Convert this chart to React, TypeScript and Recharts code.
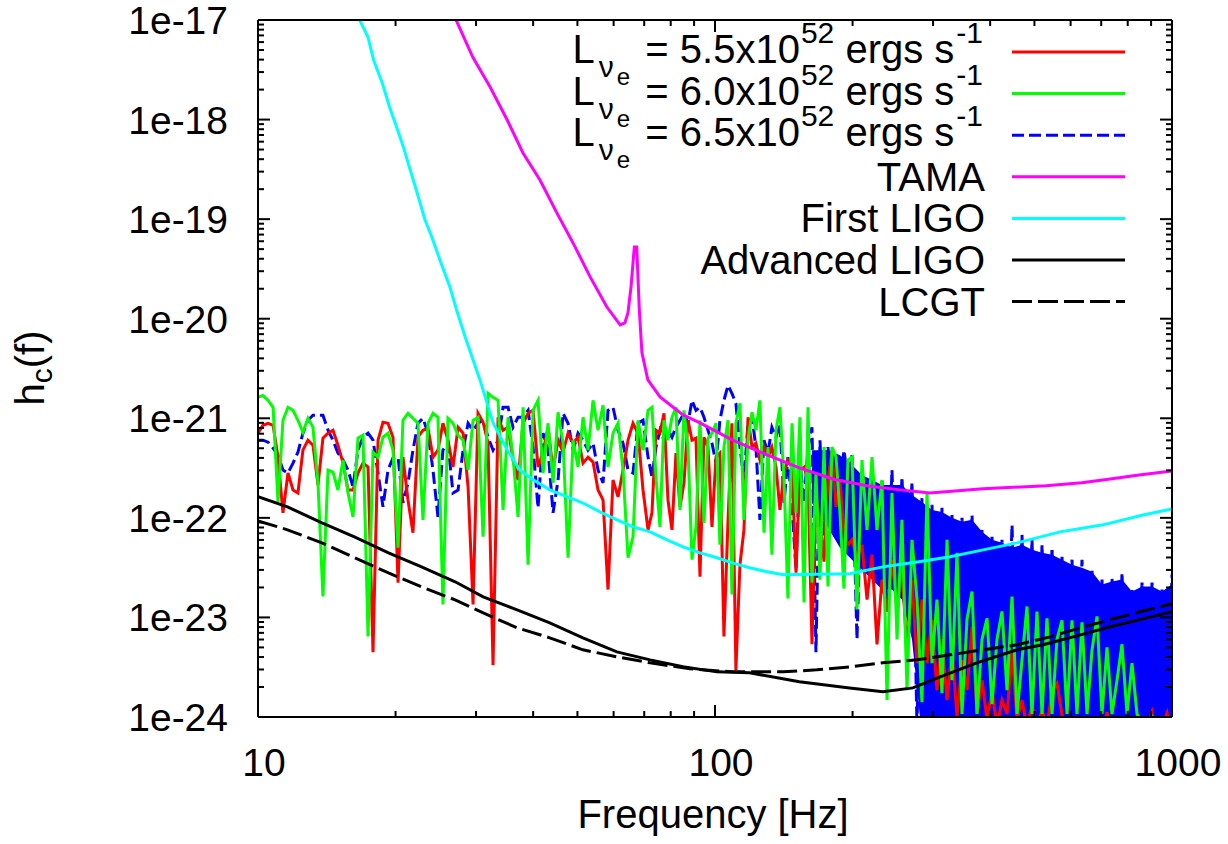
import { ComposedChart, Line, Area, XAxis, YAxis } from 'recharts';

const FONT = "'Liberation Sans', Arial, Helvetica, sans-serif";

// shared frequency grid of the three neutrino-luminosity runs (Hz)
const noiseFreq = [
  10.0, 10.25, 10.52, 10.79, 11.06, 11.34, 11.63, 11.93, 12.23, 12.54, 12.86, 13.19, 13.53, 13.87, 14.23, 14.59,
  14.96, 15.35, 15.74, 16.14, 16.55, 16.97, 17.41, 17.85, 18.31, 18.77, 19.25, 19.74, 20.25, 20.76, 21.29, 21.83,
  22.39, 22.96, 23.55, 24.15, 24.76, 25.39, 26.04, 26.71,
  27.4, 28.1, 28.82, 29.55, 30.3, 31.08, 31.87, 32.68, 33.52, 34.37, 35.25, 36.15, 37.07, 38.02, 38.99, 39.98,
  41.0, 42.05, 43.12, 44.22, 45.35, 46.5, 47.69, 48.91, 50.15, 51.43, 52.74, 54.09, 55.47, 56.88, 58.33, 59.82,
  61.35, 62.91, 64.52, 66.16, 67.85, 69.58, 71.36,
  72.79, 74.27, 75.78, 77.33, 78.9, 80.51, 82.15, 83.82, 85.53, 87.27, 89.05, 90.86, 92.71, 94.6, 96.53, 98.49,
  100.5, 102.5, 104.6, 106.8, 108.9, 111.1, 113.4, 115.7, 118.1, 120.5, 122.9, 125.4, 128.0, 130.6, 133.2, 136.0,
  138.7, 141.6, 144.4, 147.4, 150.4, 153.4, 156.6, 159.8, 163.0, 166.3, 169.7, 173.2, 176.7, 180.3, 184.0, 187.7,
  191.5, 195.4,
  199.4, 204.5, 209.7, 215.1, 220.6, 226.2, 231.9, 237.9, 243.9, 250.2, 256.5, 263.1, 269.8, 276.7, 283.7, 291.0,
  298.4, 306.0, 313.8, 321.9, 330.1, 338.5, 347.1, 356.0, 365.1, 374.4, 384.0, 393.8, 403.8, 414.1, 424.6, 435.5,
  446.6, 458.0, 469.6, 481.6, 493.9, 506.5, 519.5, 532.7, 546.3, 560.2, 574.5, 589.2, 604.2, 619.6, 635.4, 651.7,
  668.3, 685.3, 702.8, 720.7, 739.1, 758.0, 777.3, 797.2, 817.5, 838.4, 859.8, 881.7, 904.2, 927.3, 950.9, 975.2,
  1000,
];

// log10 h_c for L = 5.5e52
const redLog = [
  -21.15, -21.07, -21.05, -21.07, -21.39, -21.95, -21.55, -21.72, -21.75, -21.32, -21.22, -21.27, -21.67, -21.2,
  -21.15, -21.12, -21.27, -21.45, -21.72, -21.72, -21.55, -21.45, -21.49, -23.35, -21.22, -21.04, -21.05, -21.19,
  -22.65, -21.39, -21.82, -22.15, -21.19, -21.12, -21.1, -21.39, -21.32, -21.05, -21.22, -21.49,
  -21.09, -21.15, -21.69, -22.87, -20.95, -21.04, -21.25, -23.48, -20.99, -21.12, -21.09, -21.42, -21.62, -21.05,
  -20.95, -20.92, -21.49, -21.34, -21.09, -21.52, -21.22, -21.34, -21.15, -21.25, -21.19, -21.45, -21.39, -21.44,
  -21.72, -21.82, -22.72, -21.62, -21.79, -21.52, -21.22, -21.05, -21.15, -21.72, -22.12,
  -21.95, -21.12, -21.15, -20.95, -21.82, -22.12, -21.35, -21.89, -21.65, -21.02, -21.22, -21.2, -22.59, -21.19,
  -21.29, -22.09, -21.39, -21.35, -23.19, -22.02, -21.05, -23.53, -22.47, -22.12, -20.99, -21.29, -21.25, -21.42,
  -21.29, -21.39, -21.29, -21.49, -21.92, -21.55, -21.42, -21.49, -22.55, -21.52, -21.49, -21.62, -23.27, -21.79,
  -22.02, -22.44, -21.62, -21.32, -21.89, -21.62, -22.15, -22.27,
  -22.22, -22.4, -22.27, -22.82, -22.37, -23.27, -22.62, -22.94, -22.42, -22.92, -22.52, -23.33, -22.62, -23.46,
  -22.82, -23.46, -23.02, -23.73, -23.22, -23.83, -23.33, -24.0, -23.43, -23.73, -23.09, -23.97, -23.63, -24.03,
  -23.73, -24.1, -23.83, -23.97, -23.35, -24.03, -23.83, -24.1, -23.88, -24.1, -23.93, -24.1, -23.73, -23.66,
  -23.98, -24.1, -24.2, -24.1, -24.2, -24.1, -24.2, -24.1, -24.2, -23.95, -24.2, -24.1, -24.2, -24.1, -24.2,
  -24.1, -24.2, -24.1, -23.95, -24.2, -24.1, -23.96, -24.2,
];

// log10 h_c for L = 6.0e52
const greenLog = [
  -20.79, -20.77, -20.82, -20.89, -21.84, -21.02, -20.89, -20.92, -21.02, -21.14, -21.0, -21.09, -21.65, -22.79,
  -21.52, -21.54, -21.72, -21.42, -21.75, -21.99, -21.2, -21.17, -23.19, -21.34, -21.39, -21.19, -21.15, -21.32,
  -22.3, -21.02, -20.95, -21.0, -21.05, -22.02, -21.05, -20.95, -20.99, -22.87, -21.0, -21.05,
  -21.17, -21.22, -21.52, -21.02, -20.99, -22.19, -20.75, -20.79, -20.82, -21.92, -20.99, -21.39, -21.99, -20.89,
  -22.47, -20.92, -20.82, -21.55, -21.05, -21.65, -20.94, -21.25, -22.4, -21.22, -21.49, -20.99, -21.32, -20.82,
  -21.12, -20.87, -21.49, -21.15, -21.05, -21.52, -22.4, -22.19, -21.02, -21.32, -20.92,
  -20.89, -21.59, -22.09, -21.02, -21.22, -20.99, -20.89, -21.92, -20.92, -21.29, -22.42, -22.09, -21.02, -22.05,
  -21.2, -21.15, -21.05, -22.27, -21.29, -21.02, -22.77, -21.05, -20.85, -22.02, -21.22, -20.94, -21.12, -20.82,
  -22.15, -21.29, -22.37, -21.12, -20.89, -21.62, -22.81, -21.05, -21.95, -20.99, -22.85, -20.89, -22.65, -21.55,
  -22.62, -21.29, -22.69, -21.29, -21.39, -21.95, -22.71, -21.42,
  -21.39, -22.92, -21.42, -22.12, -21.39, -22.12, -21.62, -23.83, -21.75, -23.22, -22.02, -23.73, -22.22, -22.82,
  -23.85, -21.75, -23.46, -22.82, -23.76, -22.22, -23.63, -22.35, -23.97, -23.02, -22.74, -23.97, -23.22, -23.01,
  -23.87, -23.22, -22.94, -23.73, -22.79, -23.97, -23.43, -22.89, -23.97, -22.94, -23.97, -23.01, -23.97, -23.22,
  -23.03, -23.97, -23.03, -23.97, -23.05, -23.97, -23.33, -22.99, -23.97, -23.3, -23.97, -23.63, -23.27, -23.97,
  -23.46, -23.97, -24.05, -24.1, -24.0, -24.1, -24.05, -24.1, -24.0,
];

// log10 h_c for L = 6.5e52
const blueLog = [
  -21.22, -21.22, -21.24, -21.3, -21.37, -21.52, -21.55, -21.45, -21.34, -21.15, -21.02, -20.97, -20.97, -20.97,
  -21.12, -21.22, -21.35, -21.42, -21.52, -21.69, -21.32, -21.19, -21.15, -21.22, -21.55, -21.89, -21.52, -21.4,
  -21.39, -21.85, -21.65, -21.32, -21.05, -21.0, -21.15, -21.52, -21.99, -21.32, -21.25, -21.75,
  -21.72, -21.32, -21.05, -21.12, -21.05, -21.02, -21.19, -21.32, -21.22, -20.89, -20.89, -21.09, -20.99, -20.99,
  -20.92, -21.29, -21.9, -21.15, -21.32, -21.95, -21.62, -20.95, -21.05, -21.32, -21.15, -21.22, -21.32, -21.25,
  -21.52, -21.65, -20.92, -20.89, -21.12, -21.25, -21.52, -21.55, -21.05, -21.02, -21.39,
  -21.59, -21.29, -21.12, -21.22, -21.12, -21.19, -21.09, -21.02, -20.95, -21.05, -20.82, -20.92, -20.89, -20.99,
  -21.12, -21.25, -21.45, -21.02, -20.82, -20.67, -20.75, -20.85, -21.29, -21.62, -21.05, -20.99, -21.29, -22.02,
  -21.22, -21.35, -21.09, -21.19, -21.05, -21.85, -21.39, -21.89, -22.52, -21.42, -21.85, -21.29, -21.09, -23.35,
  -21.22, -22.19, -21.29, -21.75, -21.42, -21.72, -21.32, -21.62,
  -21.37, -23.22, -21.52, -22.42, -21.59, -22.62, -21.62, -22.94, -21.52, -22.82, -21.59, -22.72, -21.64, -24.1,
  -21.8, -23.83, -21.87, -23.63, -21.9, -23.83, -21.97, -23.73, -22.0, -23.93, -21.97, -23.73, -22.12, -23.93,
  -22.19, -23.83, -22.22, -23.63, -22.07, -23.83, -22.17, -23.73, -22.22, -23.93, -22.27, -23.83, -22.3, -23.93,
  -22.39, -23.83, -22.42, -23.98, -22.42, -23.88, -22.52, -23.98, -22.62, -24.1, -22.6, -24.1, -22.55, -24.1,
  -22.72, -24.1, -22.65, -24.1, -22.65, -24.1, -22.72, -24.1, -22.57,
];

// where the 6.5e52 trace is so dense it reads as a solid band: its upper and lower edges
const bandFreq = [
  163.0, 176.7, 187.7,
  199.4, 209.7, 220.6, 231.9, 243.9, 256.5, 269.8, 283.7, 298.4, 313.8, 330.1, 347.1, 365.1, 384.0, 403.8, 424.6,
  446.6, 469.6, 493.9, 519.5, 546.3, 574.5, 604.2, 635.4, 668.3, 702.8, 739.1, 777.3, 817.5, 859.8, 904.2, 950.9,
  1000,
];
const bandTopLog = [
  -21.32, -21.32, -21.37,
  -21.47, -21.57, -21.62, -21.67, -21.67, -21.67, -21.77, -21.84, -21.92, -21.94, -22.0, -22.04, -22.02, -22.14,
  -22.22, -22.25, -22.3, -22.27, -22.32, -22.35, -22.37, -22.42, -22.47, -22.5, -22.54, -22.67, -22.64, -22.62,
  -22.74, -22.69, -22.69, -22.74, -22.67,
];
const bandLowLog = [
  -21.85, -22.1, -22.3,
  -22.42, -22.52, -22.62, -22.72, -22.72, -22.82, -23.22, -24.2, -24.2, -24.2, -24.2, -24.2, -24.2, -24.2, -24.2,
  -24.2, -24.2, -24.2, -24.2, -24.2, -24.2, -24.2, -24.2, -24.2, -24.2, -24.2, -24.2, -24.2, -24.2, -24.2, -24.2,
  -24.2, -24.2,
];

// detector sensitivity curves
const tamaFreq = [
  27.0, 29.5, 32.2, 35.1, 38.0, 41.4, 45.1, 48.9, 53.3, 58.0, 62.0, 63.5, 64.5, 65.5, 66.6, 67.4, 68.3, 69.2, 71.3,
  75.8, 85.1, 92.7, 109, 130, 153, 181, 215, 254, 295, 386, 530, 635, 732, 847, 1000,
];
const tamaH = [
  1.05e-17, 4.25e-18, 2.12e-18, 9.9e-19, 4.62e-19, 2.47e-19, 1.15e-19, 5.77e-20, 2.63e-20, 1.31e-20, 8.67e-21,
  9.08e-21, 1.15e-20, 2.08e-20, 5.26e-20, 5.26e-20, 1.22e-20, 4.54e-21, 2.43e-21, 1.64e-21, 1.08e-21, 8.99e-22,
  6.07e-22, 4.29e-22, 3.18e-22, 2.46e-22, 2.1e-22, 1.91e-22, 1.78e-22, 1.96e-22, 2.1e-22, 2.25e-22, 2.46e-22,
  2.7e-22, 2.96e-22,
];

const ligoFreq = [
  16.6, 17.4, 17.9, 18.7, 19.4, 20.1, 20.8, 21.3, 22.3, 23.2, 24.0, 25.0, 26.3, 27.2, 28.4, 29.4, 30.6, 31.7, 32.7,
  33.9, 35.1, 37.4, 40.0, 43.5, 47.4, 51.4, 56.0, 61.0, 66.2, 72.1, 78.5, 85.1, 92.7, 101, 109, 119, 130, 141, 197,
  233, 277, 327, 386, 458, 569, 706, 864, 1000,
];
const ligoH = [
  1.05e-17, 6.75e-18, 3.97e-18, 2.33e-18, 1.34e-18, 8.43e-19, 5.31e-19, 3.67e-19, 1.83e-19, 9.8e-20, 6.63e-20,
  3.89e-20, 2.08e-20, 1.22e-20, 6.56e-21, 4.13e-21, 2.43e-21, 1.43e-21, 8.99e-22, 6.5e-22, 4.82e-22, 3.03e-22,
  2.41e-22, 1.91e-22, 1.63e-22, 1.41e-22, 1.15e-22, 9.55e-23, 8.12e-23, 7.23e-23, 6.01e-23, 5.11e-23, 4.45e-23,
  3.97e-23, 3.53e-23, 3.15e-23, 2.87e-23, 2.68e-23, 2.74e-23, 3.22e-23, 3.61e-23, 4.06e-23, 4.77e-23, 5.61e-23,
  7.23e-23, 8.51e-23, 1.07e-22, 1.23e-22,
];

const advFreq = [
  10, 11.6, 13.8, 16.3, 19.3, 22.8, 27.0, 31.1, 36.9, 43.5, 51.4, 61.0, 72.1, 85.1, 101, 119, 153, 197, 233, 271,
  311, 374, 458, 522, 619, 732, 864, 1000,
];
const advH = [
  1.63e-22, 1.29e-22, 8.9e-23, 6.4e-23, 4.45e-23, 3.22e-23, 2.28e-23, 1.61e-23, 1.19e-23, 8.83e-24, 6.24e-24,
  4.51e-24, 3.75e-24, 3.19e-24, 2.84e-24, 2.78e-24, 2.26e-24, 1.96e-24, 1.79e-24, 1.96e-24, 2.53e-24, 3.5e-24,
  4.73e-24, 5.31e-24, 6.53e-24, 8.05e-24, 9.68e-24, 1.14e-23,
];

const lcgtFreq = [
  10, 11.6, 13.8, 16.3, 19.3, 22.8, 27.0, 31.1, 36.9, 43.5, 51.4, 61.0, 72.1, 88.1, 109, 141, 167, 197, 233, 277,
  327, 386, 458, 541, 629, 732, 851, 1000,
];
const lcgtH = [
  9.33e-23, 7.58e-23, 5.61e-23, 3.96e-23, 2.8e-23, 2.03e-23, 1.5e-23, 1.11e-23, 7.86e-24, 6.24e-24, 4.73e-24,
  4.02e-24, 3.5e-24, 3.05e-24, 2.84e-24, 2.84e-24, 2.98e-24, 3.19e-24, 3.5e-24, 3.75e-24, 4.21e-24, 4.73e-24,
  5.31e-24, 6.38e-24, 7.86e-24, 9.46e-24, 1.14e-23, 1.37e-23,
];

// axes
const xTicks = [10, 20, 30, 40, 50, 60, 70, 80, 90, 100, 200, 300, 400, 500, 600, 700, 800, 900, 1000];
const xTickLabels: Record<number, string> = { 10: '10', 100: '100', 1000: '1000' };
const yDecades = [1e-24, 1e-23, 1e-22, 1e-21, 1e-20, 1e-19, 1e-18, 1e-17];
const yTickLabels = ['1e-24', '1e-23', '1e-22', '1e-21', '1e-20', '1e-19', '1e-18', '1e-17'];
const minorSteps = [2, 3, 4, 5, 6, 7, 8, 9];

const yTicks = yDecades.flatMap((d, i) =>
  i === yDecades.length - 1 ? [d] : [d, ...minorSteps.map((m) => m * d)]
);

const pairs = (fs: number[], hs: number[]) => fs.map((f, i) => ({ f, h: hs[i] }));
const fromLog = (fs: number[], ls: number[]) => fs.map((f, i) => ({ f, h: Math.pow(10, ls[i]) }));

const redData = fromLog(noiseFreq, redLog);
const greenData = fromLog(noiseFreq, greenLog);
const blueData = fromLog(noiseFreq, blueLog);
const bandData = bandFreq.map((f, i) => ({
  f,
  range: [Math.pow(10, bandLowLog[i]), Math.pow(10, bandTopLog[i])],
}));
const tamaData = pairs(tamaFreq, tamaH);
const ligoData = pairs(ligoFreq, ligoH);
const advData = pairs(advFreq, advH);
const lcgtData = pairs(lcgtFreq, lcgtH);

const MAJOR = 12;
const MINOR = 6;

const BottomTick = ({ x, y, payload }: any) => {
  const label = xTickLabels[payload.value];
  return (
    <g>
      <line x1={x} x2={x} y1={y} y2={y - (label ? MAJOR : MINOR)} stroke="#000" strokeWidth={2} />
      {label && (
        <text x={x + 6} y={y + 59} textAnchor="middle" fontSize={39} fontFamily={FONT} fill="#000">
          {label}
        </text>
      )}
    </g>
  );
};

const TopTick = ({ x, y, payload }: any) => {
  const label = xTickLabels[payload.value];
  return <line x1={x} x2={x} y1={y} y2={y + (label ? MAJOR : MINOR)} stroke="#000" strokeWidth={2} />;
};

const LeftTick = ({ x, y, payload }: any) => {
  const idx = yDecades.indexOf(payload.value);
  return (
    <g>
      <line x1={x} x2={x + (idx >= 0 ? MAJOR : MINOR)} y1={y} y2={y} stroke="#000" strokeWidth={2} />
      {idx >= 0 && (
        <text x={x - 30} y={y + 14} textAnchor="end" fontSize={39} fontFamily={FONT} fill="#000">
          {yTickLabels[idx]}
        </text>
      )}
    </g>
  );
};

const RightTick = ({ x, y, payload }: any) => {
  const major = yDecades.indexOf(payload.value) >= 0;
  return <line x1={x} x2={x - (major ? MAJOR : MINOR)} y1={y} y2={y} stroke="#000" strokeWidth={2} />;
};

const legendRows = [
  { lum: '5.5', color: '#ff0000', dash: undefined },
  { lum: '6.0', color: '#00ff00', dash: undefined },
  { lum: '6.5', color: '#0000ff', dash: '12 5' },
];
const legendCurves = [
  { name: 'TAMA', color: '#ff00ff', dash: undefined },
  { name: 'First LIGO', color: '#00ffff', dash: undefined },
  { name: 'Advanced LIGO', color: '#000000', dash: undefined },
  { name: 'LCGT', color: '#000000', dash: '20 6' },
];

function Overlay() {
  const rowY = (i: number) => 52 + 41.6 * i;
  return (
    <svg
      width={1228}
      height={844}
      style={{ position: 'absolute', left: 0, top: 0, pointerEvents: 'none', overflow: 'visible' }}
      fontFamily={FONT}
    >
      {legendRows.map((r, i) => (
        <g key={r.lum}>
          <text x={983} y={rowY(i) + 11} textAnchor="end" fontSize={40} fill="#000">
            L<tspan dx={4} dy={14} fontSize={30}>ν</tspan>
            <tspan dx={3} dy={8} fontSize={24}>e</tspan>
            <tspan dx={4} dy={-22} fontSize={40}> = {r.lum}x10</tspan>
            <tspan dx={1} dy={-20} fontSize={30}>52</tspan>
            <tspan dy={20} fontSize={40}> ergs s</tspan>
            <tspan dx={2} dy={-20} fontSize={30}>-1</tspan>
          </text>
          <line x1={1012} x2={1125} y1={rowY(i)} y2={rowY(i)} stroke={r.color} strokeWidth={3} strokeDasharray={r.dash} />
        </g>
      ))}
      {legendCurves.map((c, j) => {
        const y = rowY(j + 3);
        return (
          <g key={c.name}>
            <text x={985} y={y + 14} textAnchor="end" fontSize={40} fill="#000">
              {c.name}
            </text>
            <line x1={1012} x2={1125} y1={y} y2={y} stroke={c.color} strokeWidth={3} strokeDasharray={c.dash} />
          </g>
        );
      })}
      <text x={713} y={828} textAnchor="middle" fontSize={40} fill="#000">
        Frequency [Hz]
      </text>
      <text x={44} y={368} textAnchor="middle" fontSize={40} fill="#000" transform="rotate(-90, 44, 368)">
        h<tspan dy={8} fontSize={30}>c</tspan>
        <tspan dy={-8} fontSize={40}>(f)</tspan>
      </text>
    </svg>
  );
}

export default function App() {
  const xProps = {
    type: 'number' as const,
    dataKey: 'f',
    scale: 'log' as const,
    domain: [10, 1000],
    allowDataOverflow: true,
    ticks: xTicks,
    interval: 0,
    tickSize: 0,
    tickMargin: 0,
    tickLine: false,
    axisLine: { stroke: '#000', strokeWidth: 2 },
  };
  const yProps = {
    type: 'number' as const,
    scale: 'log' as const,
    domain: [1e-24, 1e-17],
    allowDataOverflow: true,
    ticks: yTicks,
    interval: 0,
    tickSize: 0,
    tickMargin: 0,
    tickLine: false,
    axisLine: { stroke: '#000', strokeWidth: 2 },
  };
  const lineW = 3;

  return (
    <div style={{ position: 'absolute', left: 0, top: 0, width: 1228, height: 844, background: '#fff' }}>
      <ComposedChart width={1228} height={844} margin={{ top: 19, right: 55, bottom: 0, left: 0 }}>
        <Area
          data={bandData}
          dataKey="range"
          type="linear"
          stroke="none"
          fill="#0000ff"
          fillOpacity={1}
          isAnimationActive={false}
        />
        <Line data={blueData} dataKey="h" type="linear" stroke="#0000ff" strokeWidth={lineW} strokeDasharray="12 5" dot={false} isAnimationActive={false} />
        <Line data={redData} dataKey="h" type="linear" stroke="#ff0000" strokeWidth={lineW} dot={false} isAnimationActive={false} />
        <Line data={greenData} dataKey="h" type="linear" stroke="#00ff00" strokeWidth={lineW} dot={false} isAnimationActive={false} />
        <Line data={tamaData} dataKey="h" type="linear" stroke="#ff00ff" strokeWidth={lineW} dot={false} isAnimationActive={false} />
        <Line data={ligoData} dataKey="h" type="linear" stroke="#00ffff" strokeWidth={lineW} dot={false} isAnimationActive={false} />
        <Line data={advData} dataKey="h" type="linear" stroke="#000000" strokeWidth={lineW} dot={false} isAnimationActive={false} />
        <Line data={lcgtData} dataKey="h" type="linear" stroke="#000000" strokeWidth={lineW} strokeDasharray="20 6" dot={false} isAnimationActive={false} />
        <XAxis {...xProps} orientation="bottom" height={127} tick={BottomTick} />
        <XAxis {...xProps} xAxisId="top" orientation="top" height={1} tick={TopTick} />
        <YAxis {...yProps} orientation="left" width={258} tick={LeftTick} />
        <YAxis {...yProps} yAxisId="right" orientation="right" width={1} tick={RightTick} />
      </ComposedChart>
      <Overlay />
    </div>
  );
}
